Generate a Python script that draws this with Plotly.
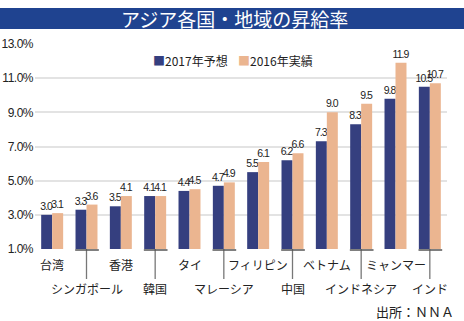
import plotly.graph_objects as go

categories = ["台湾", "シンガポール", "香港", "韓国", "タイ", "マレーシア",
              "フィリピン", "中国", "ベトナム", "インドネシア", "ミャンマー", "インド"]
forecast_2017 = [3.0, 3.3, 3.5, 4.1, 4.4, 4.7, 5.5, 6.2, 7.3, 8.3, 9.8, 10.5]
actual_2016 = [3.1, 3.6, 4.1, 4.1, 4.5, 4.9, 6.1, 6.6, 9.0, 9.5, 11.9, 10.7]
series_names = ["2017年予想", "2016年実績"]
y_ticks = [1, 3, 5, 7, 9, 11, 13]
y_tick_labels = ["1.0%", "3.0%", "5.0%", "7.0%", "9.0%", "11.0%", "13.0%"]
title_text = "アジア各国・地域の昇給率"
source_text = "出所：ＮＮＡ"

BLUE = "#353f7f"
ORANGE = "#ebb590"
TITLE_BG = "#1f4390"
NUM = "Liberation Sans Narrow, Liberation Sans, Arial"
JP = "Noto Sans CJK JP, Noto Sans"

W, H = 464, 321
L, R, T, B = 35, 17, 44, 72
pw, ph = W - L - R, H - T - B

def px_x(p):
    return (p - L) / pw

def px_y(p):
    return (H - B - p) / ph

def tight(s, ls):
    return f"<span style='font-stretch:condensed;letter-spacing:{ls}px'>{s}</span>"

fig = go.Figure()
for name, vals, col in [(series_names[0], forecast_2017, BLUE),
                        (series_names[1], actual_2016, ORANGE)]:
    fig.add_trace(go.Bar(
        x=categories, y=[v - 1 for v in vals], base=1, name=name,
        marker=dict(color=col, line=dict(width=0)),
        text=[tight(f"{v:.1f}", -1.0) for v in vals], textposition="outside",
        textfont=dict(family=NUM, size=10.5, color="#222"),
        constraintext="none", cliponaxis=False,
    ))

shapes = []
annotations = []
shapes.append(dict(type="rect", xref="paper", yref="paper",
                   x0=px_x(0), x1=px_x(W), y0=px_y(29), y1=px_y(8),
                   fillcolor=TITLE_BG, line=dict(width=0), layer="below"))
annotations.append(dict(text=title_text, xref="paper", yref="paper",
                        x=px_x(234), y=px_y(18.5), showarrow=False,
                        font=dict(family=JP, size=19, color="white"),
                        xanchor="center", yanchor="middle"))

for i, c in enumerate(categories):
    if i % 2 == 0:
        annotations.append(dict(text=c, xref="x", yref="paper", x=i, y=px_y(264),
                                showarrow=False, xanchor="center", yanchor="middle",
                                font=dict(family=JP, size=12, color="#222")))
    else:
        annotations.append(dict(text=c, xref="x", yref="paper", x=i, y=px_y(288),
                                showarrow=False, xanchor="center", yanchor="middle",
                                font=dict(family=JP, size=12, color="#222")))
        shapes.append(dict(type="line", xref="x", yref="paper", x0=i, x1=i,
                           y0=0, y1=px_y(279), line=dict(color="#777", width=1.3)))
        shapes.append(dict(type="line", xref="x", yref="paper", x0=i - 0.33, x1=i + 0.36,
                           y0=px_y(250), y1=px_y(250), line=dict(color="#555", width=1.5)))

annotations.append(dict(text=f"<span style='color:{BLUE}'>■</span>{series_names[0]}",
                        xref="paper", yref="paper", x=px_x(151), y=px_y(61),
                        xanchor="left", yanchor="middle", showarrow=False,
                        font=dict(family=JP, size=12, color="#222")))
annotations.append(dict(text=f"<span style='color:{ORANGE}'>■</span>{series_names[1]}",
                        xref="paper", yref="paper", x=px_x(236), y=px_y(61),
                        xanchor="left", yanchor="middle", showarrow=False,
                        font=dict(family=JP, size=12, color="#222")))
annotations.append(dict(text=source_text, xref="paper", yref="paper",
                        x=px_x(456), y=px_y(311), xanchor="right", yanchor="middle",
                        showarrow=False, font=dict(family=JP, size=13, color="#222")))

fig.update_layout(
    width=W, height=H, margin=dict(l=L, r=R, t=T, b=B, autoexpand=False),
    paper_bgcolor="white", plot_bgcolor="white",
    barmode="group", bargap=0.36, bargroupgap=0,
    showlegend=False, shapes=shapes, annotations=annotations,
    xaxis=dict(showticklabels=False, showgrid=False, zeroline=False, showline=False,
               range=[-0.5, len(categories) - 0.5], automargin=False),
    yaxis=dict(range=[1, 13], tickvals=y_ticks,
               ticktext=[tight(t, -0.5) for t in y_tick_labels],
               showgrid=True, gridcolor="#e3e3e3", gridwidth=1.5, zeroline=False,
               showline=False, ticks="", ticklabelstandoff=1, automargin=False,
               tickfont=dict(family=NUM, size=12, color="#222")),
)

fig.write_html("out.html")
